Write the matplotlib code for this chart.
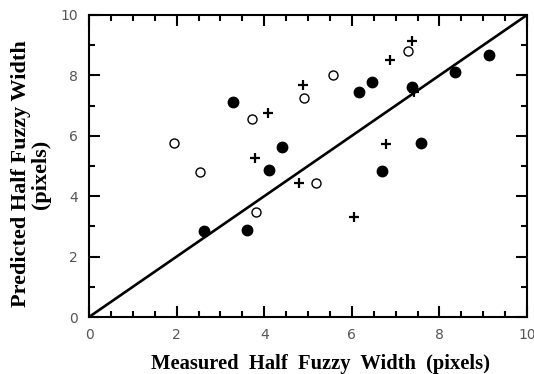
import numpy as np
import matplotlib
matplotlib.use("Agg")
import matplotlib.pyplot as plt
from matplotlib.ticker import MultipleLocator

# measured vs predicted half fuzzy width (pixels)
filled_x = [3.29, 4.41, 4.12, 2.63, 3.61, 6.16, 6.47, 7.38, 8.35, 9.12, 7.58, 6.68]
filled_y = [7.13, 5.62, 4.87, 2.86, 2.88, 7.44, 7.79, 7.60, 8.11, 8.68, 5.75, 4.83]

open_x = [5.56, 4.91, 3.71, 1.93, 2.53, 3.81, 5.18, 7.28]
open_y = [8.01, 7.26, 6.56, 5.77, 4.79, 3.47, 4.43, 8.81]

cross_x = [4.89, 4.08, 3.79, 4.79, 7.37, 6.86, 6.77, 7.43, 6.05]
cross_y = [7.68, 6.77, 5.25, 4.45, 9.15, 8.51, 5.72, 7.46, 3.32]

ticks = [0, 2, 4, 6, 8, 10]

fig = plt.figure(figsize=(5.34, 3.74), dpi=100)
ax = fig.add_axes([0.1667, 0.1524, 0.8203, 0.8076])

ax.plot([0, 10], [0, 10], color="black", lw=1.9, zorder=2)
ax.plot(filled_x, filled_y, "o", color="black", ms=7.5, zorder=3)
ax.plot(open_x, open_y, "o", mfc="white", mec="black", mew=1.0, ms=6.5, zorder=3)
ax.plot(cross_x, cross_y, "+", color="black", ms=7, mew=1.6, zorder=3)

ax.set_xlim(0, 10)
ax.set_ylim(0, 10)
ax.set_xticks(ticks)
ax.set_yticks(ticks)
ax.xaxis.set_minor_locator(MultipleLocator(0.5))
ax.yaxis.set_minor_locator(MultipleLocator(1))
ax.tick_params(which="both", direction="in", top=True, right=True, width=1.5,
               labelsize=10, labelcolor="#555555", colors="black")
ax.tick_params(which="major", length=8, pad=8)
ax.tick_params(which="minor", length=4.5)
for s in ax.spines.values():
    s.set_linewidth(1.5)

# axis titles placed by hand to match the original layout
fig.text(0.601, 0.027, "Measured  Half  Fuzzy  Width  (pixels)", ha="center", va="center",
         family="Liberation Serif", weight="bold", size=14.8)
fig.text(0.058, 0.535, "Predicted Half Fuzzy Width\n(pixels)", ha="center", va="center",
         rotation=90, linespacing=0.95, family="Liberation Serif", weight="bold", size=16)

fig.savefig("out.png", dpi=100)
